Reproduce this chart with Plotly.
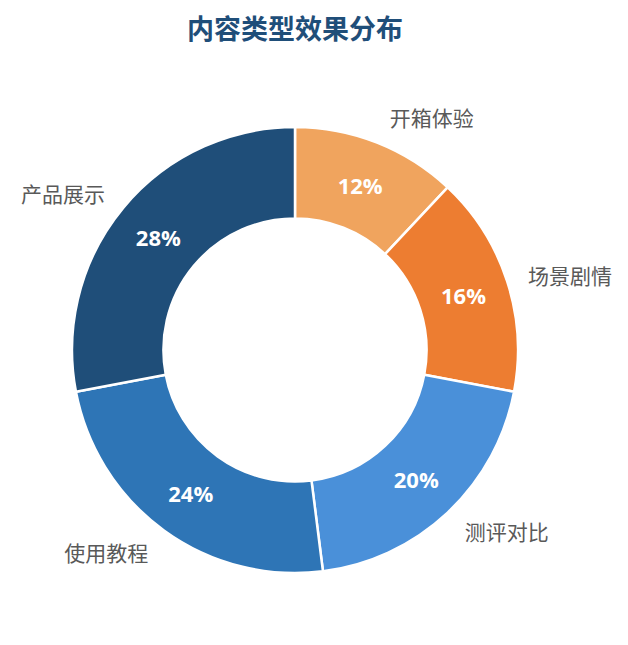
import plotly.graph_objects as go

categories = ["开箱体验", "场景剧情", "测评对比", "使用教程", "产品展示"]
values = [12, 16, 20, 24, 28]
colors = ["#f0a45e", "#ed7d31", "#4a90d9", "#2e75b6", "#1f4e79"]
title_text = "内容类型效果分布"

W, H = 628, 645
cx, cy = 287, 342
R_main = 223
R_lab = 237

def dom(r):
    return dict(x=[(cx - r) / W, (cx + r) / W], y=[1 - (cy + r) / H, 1 - (cy - r) / H])

fig = go.Figure()

# label trace (transparent ring, outside labels)
fig.add_trace(go.Pie(
    labels=categories, values=values, sort=False, direction="clockwise", rotation=0,
    domain=dom(R_lab), hole=0.9,
    marker=dict(colors=["rgba(0,0,0,0)"] * len(values), line=dict(width=0)),
    textinfo="label", textposition="outside",
    outsidetextfont=dict(family="Noto Sans CJK SC", size=21, color="#595959"),
    hoverinfo="skip", showlegend=False, automargin=False,
))

# main donut
fig.add_trace(go.Pie(
    labels=categories, values=values, sort=False, direction="clockwise", rotation=0,
    domain=dom(R_main), hole=0.59,
    marker=dict(colors=colors, line=dict(color="white", width=2.5)),
    textinfo="percent", textposition="inside", insidetextorientation="horizontal",
    texttemplate="%{percent:.0%}",
    insidetextfont=dict(family="Open Sans", size=22, color="white", weight="bold"),
    showlegend=False, automargin=False,
))

fig.update_layout(
    width=W, height=H,
    margin=dict(l=0, r=0, t=0, b=0),
    paper_bgcolor="white", plot_bgcolor="white",
    showlegend=False,
    title=dict(text="<b>" + title_text + "</b>", x=cx / W, xanchor="center",
               y=1 - 22 / H, yanchor="middle",
               font=dict(family="Noto Sans CJK SC", size=27, color="#1f4e79")),
)

fig.write_html("out.html")
